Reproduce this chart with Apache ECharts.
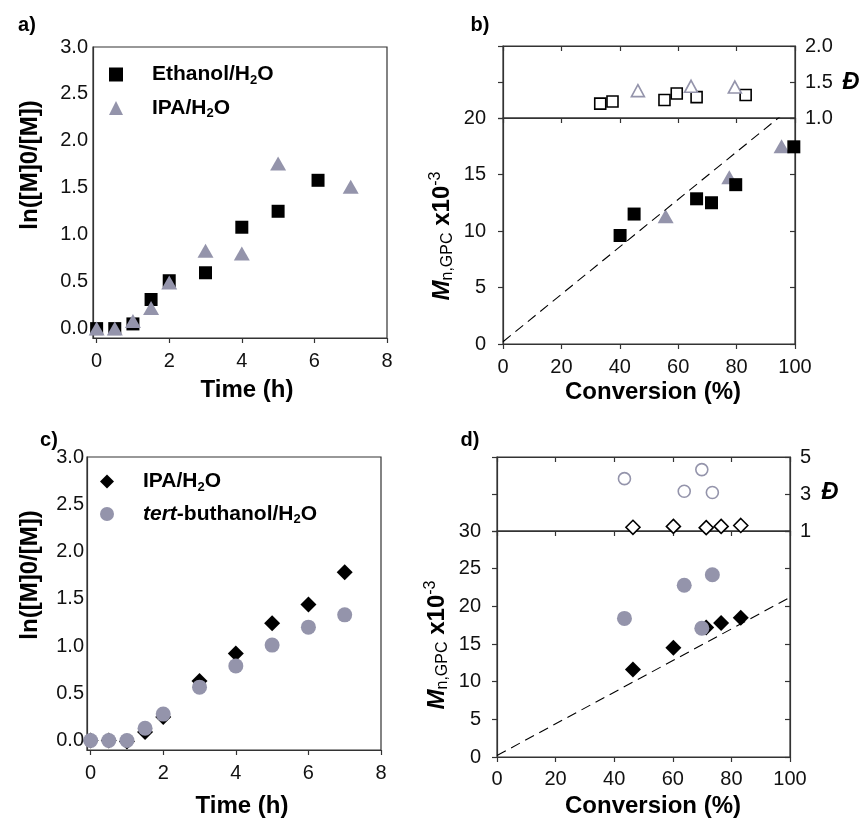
<!DOCTYPE html>
<html>
<head>
<meta charset="utf-8">
<script src="https://cdn.jsdelivr.net/npm/echarts@6/dist/echarts.min.js"></script>
<style>
  html, body { margin: 0; padding: 0; background: #fff; }
  #chart { width: 861px; height: 819px; }
</style>
</head>
<body>
<div id="chart"></div>
<script>
// ---------- a) first-order kinetics, ethanol vs IPA ----------
const timeEthanolA = [0, 0.5, 1, 1.5, 2, 3, 4, 5, 6.1];
const lnEthanolA   = [0, 0, 0.05, 0.31, 0.51, 0.595, 1.08, 1.25, 1.58];
const timeIpaA     = [0, 0.5, 1, 1.5, 2, 3, 4, 5, 7];
const lnIpaA       = [0, 0, 0.08, 0.22, 0.49, 0.83, 0.80, 1.76, 1.51];

// ---------- b) Mn and dispersity vs conversion ----------
const convEthanolB = [40.1, 44.9, 66.3, 71.4, 79.7, 99.6];
const mnEthanolB   = [9.6, 11.5, 12.85, 12.5, 14.1, 17.45];
const convIpaB     = [55.7, 77.5, 95.4];
const mnIpaB       = [11.3, 14.75, 17.5];
const convEthanolDispB = [33.3, 37.5, 55.3, 59.5, 66.3, 83.1];
const dispEthanolB     = [1.20, 1.23, 1.25, 1.34, 1.29, 1.32];
const convIpaDispB     = [46.2, 64.4, 79.4];
const dispIpaB         = [1.38, 1.44, 1.43];

// theoretical Mn line (x10^-3)
const theoryConv = [0, 100];
const theoryMn   = [0.2, 21.2];

// ---------- c) first-order kinetics, IPA vs tert-butanol ----------
const timeC   = [0, 0.5, 1, 1.5, 2, 3, 4, 5, 6, 7];
const lnIpaC  = [0, 0, -0.01, 0.09, 0.25, 0.63, 0.92, 1.24, 1.44, 1.78];
const lnTbuC  = [0, 0, 0, 0.13, 0.28, 0.565, 0.79, 1.01, 1.20, 1.33];

// ---------- d) Mn and dispersity vs conversion ----------
const convIpaD = [46.4, 60.2, 71.4, 76.5, 83.2];
const mnIpaD   = [11.6, 14.5, 17.2, 17.8, 18.5];
const dispIpaD = [1.20, 1.25, 1.18, 1.25, 1.30];
const convTbuD = [43.5, 63.9, 69.9, 73.5];
const mnTbuD   = [18.4, 22.8, 17.1, 24.2];
const dispTbuD = [3.83, 3.15, 4.32, 3.08];

// tick values
const timeTicks = [0, 2, 4, 6, 8];
const lnTicks   = [0, 0.5, 1, 1.5, 2, 2.5, 3];

const FONT = "'Liberation Sans', Arial, sans-serif";
const AXIS = '#333';
const GRAY = '#9494ab';
const pairs = (xs, ys) => xs.map((x, i) => [x, ys[i]]);

function axis(o) {
  return {
    type: 'value',
    gridIndex: o.grid,
    position: o.position,
    min: o.min, max: o.max, interval: o.interval,
    axisLine: { show: true, onZero: false, lineStyle: { color: AXIS, width: 1.2 } },
    splitLine: { show: false },
    axisTick: {
      show: o.tick !== false, inside: !!o.inside, length: 5,
      customValues: o.ticks, lineStyle: { color: AXIS, width: 1.2 }
    },
    axisLabel: {
      show: !!o.label, margin: o.margin || 8, customValues: o.ticks,
      formatter: o.fmt, color: '#111', fontSize: 20, fontFamily: FONT
    }
  };
}

const grids = [
  { left: 93,  top: 47,  width: 294, height: 291 }, // a
  { left: 503, top: 46,  width: 292, height: 72  }, // b top
  { left: 503, top: 118, width: 292, height: 226 }, // b bottom
  { left: 87,  top: 457, width: 294, height: 293 }, // c
  { left: 497, top: 457, width: 293, height: 74  }, // d top
  { left: 497, top: 531, width: 293, height: 226 }  // d bottom
].map(g => Object.assign(g, { show: true, borderColor: AXIS, borderWidth: 1.2, backgroundColor: 'transparent', outerBoundsMode: 'none' }));

const fix1 = v => v.toFixed(1);

const xAxes = [
  axis({ grid: 0, position: 'bottom', min: -0.1, max: 8, ticks: timeTicks, label: true, margin: 13 }),
  axis({ grid: 1, position: 'top', min: 0, max: 100, interval: 20, inside: true }),
  axis({ grid: 2, position: 'bottom', min: 0, max: 100, interval: 20, label: true, margin: 13 }),
  axis({ grid: 2, position: 'top', min: 0, max: 100, interval: 20, inside: true }),
  axis({ grid: 3, position: 'bottom', min: -0.1, max: 8, ticks: timeTicks, label: true, margin: 13 }),
  axis({ grid: 4, position: 'top', min: 0, max: 100, interval: 20, inside: true }),
  axis({ grid: 5, position: 'bottom', min: 0, max: 100, interval: 20, label: true, margin: 12 }),
  axis({ grid: 5, position: 'top', min: 0, max: 100, interval: 20, inside: true })
];

const yAxes = [
  axis({ grid: 0, position: 'left', min: -0.1, max: 3, ticks: lnTicks, label: true, margin: 5, fmt: fix1, tick: false }),
  axis({ grid: 1, position: 'left', min: 1, max: 2, interval: 0.5 }),
  axis({ grid: 1, position: 'right', min: 1, max: 2, interval: 0.5, inside: true, label: true, margin: 10, fmt: fix1 }),
  axis({ grid: 2, position: 'left', min: 0, max: 20, interval: 5, label: true, margin: 17 }),
  axis({ grid: 2, position: 'right', min: 0, max: 20, interval: 5, inside: true }),
  axis({ grid: 3, position: 'left', min: -0.1, max: 3, ticks: lnTicks, label: true, margin: 3, fmt: fix1, tick: false }),
  axis({ grid: 4, position: 'left', min: 1, max: 5, interval: 2 }),
  axis({ grid: 4, position: 'right', min: 1, max: 5, interval: 2, inside: true, label: true, margin: 10 }),
  axis({ grid: 5, position: 'left', min: 0, max: 30, interval: 5, label: true, margin: 16 }),
  axis({ grid: 5, position: 'right', min: 0, max: 30, interval: 5, inside: true })
];

function scatter(name, x, y, data, sym, size, style) {
  return { type: 'scatter', name, xAxisIndex: x, yAxisIndex: y, data, symbol: sym, symbolSize: size,
           itemStyle: style, silent: true, emphasis: { disabled: true } };
}
const solid = c => ({ color: c, opacity: 1 });
const hollow = c => ({ color: '#fff', borderColor: c, borderWidth: 1.6, opacity: 1 });
function theoryLine(x, y) {
  return { type: 'line', xAxisIndex: x, yAxisIndex: y, data: pairs(theoryConv, theoryMn),
           symbol: 'none', clip: true, silent: true,
           lineStyle: { color: '#000', width: 1.1, type: [10, 6] } };
}

const series = [
  // a
  scatter('Ethanol/H2O', 0, 0, pairs(timeEthanolA, lnEthanolA), 'rect', 13, solid('#000')),
  scatter('IPA/H2O', 0, 0, pairs(timeIpaA, lnIpaA), 'triangle', [16, 14], solid(GRAY)),
  // b dispersity
  scatter('Ethanol Đ', 1, 2, pairs(convEthanolDispB, dispEthanolB), 'rect', 11, hollow('#000')),
  scatter('IPA Đ', 1, 2, pairs(convIpaDispB, dispIpaB), 'triangle', [13, 12], hollow(GRAY)),
  // b Mn
  theoryLine(2, 3),
  scatter('IPA Mn', 2, 3, pairs(convIpaB, mnIpaB), 'triangle', [16, 14], solid(GRAY)),
  scatter('Ethanol Mn', 2, 3, pairs(convEthanolB, mnEthanolB), 'rect', 13, solid('#000')),
  // c
  scatter('IPA/H2O (tBuOH set)', 4, 5, pairs(timeC, lnIpaC), 'diamond', 16, solid('#000')),
  scatter('tert-buthanol/H2O', 4, 5, pairs(timeC, lnTbuC), 'circle', 15, solid(GRAY)),
  // d dispersity
  scatter('tBuOH Đ', 5, 7, pairs(convTbuD, dispTbuD), 'circle', 12, hollow(GRAY)),
  scatter('IPA Đ d', 5, 7, pairs(convIpaD, dispIpaD), 'diamond', 14, hollow('#000')),
  // d Mn
  theoryLine(6, 8),
  scatter('IPA Mn d', 6, 8, pairs(convIpaD, mnIpaD), 'diamond', 16, solid('#000')),
  scatter('tBuOH Mn', 6, 8, pairs(convTbuD, mnTbuD), 'circle', 15, solid(GRAY))
];

const richText = {
  g: { width: 24 },
  t: { fontSize: 21, fontWeight: 'bold', fontFamily: FONT, color: '#000', lineHeight: 24 },
  i: { fontSize: 21, fontWeight: 'bold', fontStyle: 'italic', fontFamily: FONT, color: '#000', lineHeight: 24 },
  s: { fontSize: 13, fontWeight: 'bold', fontFamily: FONT, color: '#000', lineHeight: 10, verticalAlign: 'bottom' }
};
const legendLabels = {
  'Ethanol/H2O': '{g| }{t|Ethanol/H}{s|2}{t|O}',
  'IPA/H2O': '{g| }{t|IPA/H}{s|2}{t|O}',
  'IPA/H2O (tBuOH set)': '{g| }{t|IPA/H}{s|2}{t|O}',
  'tert-buthanol/H2O': '{g| }{i|tert}{t|-buthanol/H}{s|2}{t|O}'
};
function legend(left, top, names, gap) {
  return { orient: 'vertical', left, top, itemWidth: 14, itemHeight: 14, itemGap: gap,
           selectedMode: false, data: names, formatter: n => legendLabels[n],
           textStyle: { rich: richText } };
}

// axis titles and panel letters
const titleRich = {
  t: { fontSize: 24, fontWeight: 'bold', fontFamily: FONT, fill: '#000', lineHeight: 28 },
  m: { fontSize: 24, fontWeight: 'bold', fontStyle: 'italic', fontFamily: FONT, fill: '#000', lineHeight: 28 },
  s: { fontSize: 16, fontFamily: FONT, fill: '#000', lineHeight: 12, verticalAlign: 'bottom' },
  p: { fontSize: 16, fontFamily: FONT, fill: '#000', lineHeight: 8, verticalAlign: 'top' }
};
function label(text, x, y, opts) {
  opts = opts || {};
  return { type: 'text', x, y, rotation: opts.rot || 0, silent: true,
           style: { text, rich: opts.rich, fill: '#000', fontFamily: FONT,
                    fontSize: opts.size || 24, fontWeight: 'bold', fontStyle: opts.italic ? 'italic' : 'normal',
                    align: 'center', verticalAlign: 'middle' } };
}
const mnTitle = '{m|M}{s|n,GPC}{t| x10}{p|-3}';
const graphics = [
  label('a)', 27, 25, { size: 20 }),
  label('b)', 480, 25, { size: 20 }),
  label('c)', 49, 440, { size: 20 }),
  label('d)', 470, 440, { size: 20 }),
  label('ln([M]0/[M])', 30, 165, { rot: Math.PI / 2 }),
  label('Time (h)', 247, 390),
  label(mnTitle, 442, 236, { rot: Math.PI / 2, rich: titleRich }),
  label('Conversion (%)', 653, 392),
  label('Đ', 851, 82, { italic: true }),
  label('ln([M]0/[M])', 30, 575, { rot: Math.PI / 2 }),
  label('Time (h)', 242, 806),
  label(mnTitle, 437, 645, { rot: Math.PI / 2, rich: titleRich }),
  label('Conversion (%)', 653, 806),
  label('Đ', 830, 492, { italic: true })
];

const chart = echarts.init(document.getElementById('chart'), null, { renderer: 'canvas' });
chart.setOption({
  backgroundColor: '#fff',
  animation: false,
  textStyle: { fontFamily: FONT },
  grid: grids,
  xAxis: xAxes,
  yAxis: yAxes,
  series,
  legend: [
    legend(104, 59, ['Ethanol/H2O', 'IPA/H2O'], 11),
    legend(95, 466, ['IPA/H2O (tBuOH set)', 'tert-buthanol/H2O'], 10)
  ],
  graphic: graphics
});
</script>
</body>
</html>
